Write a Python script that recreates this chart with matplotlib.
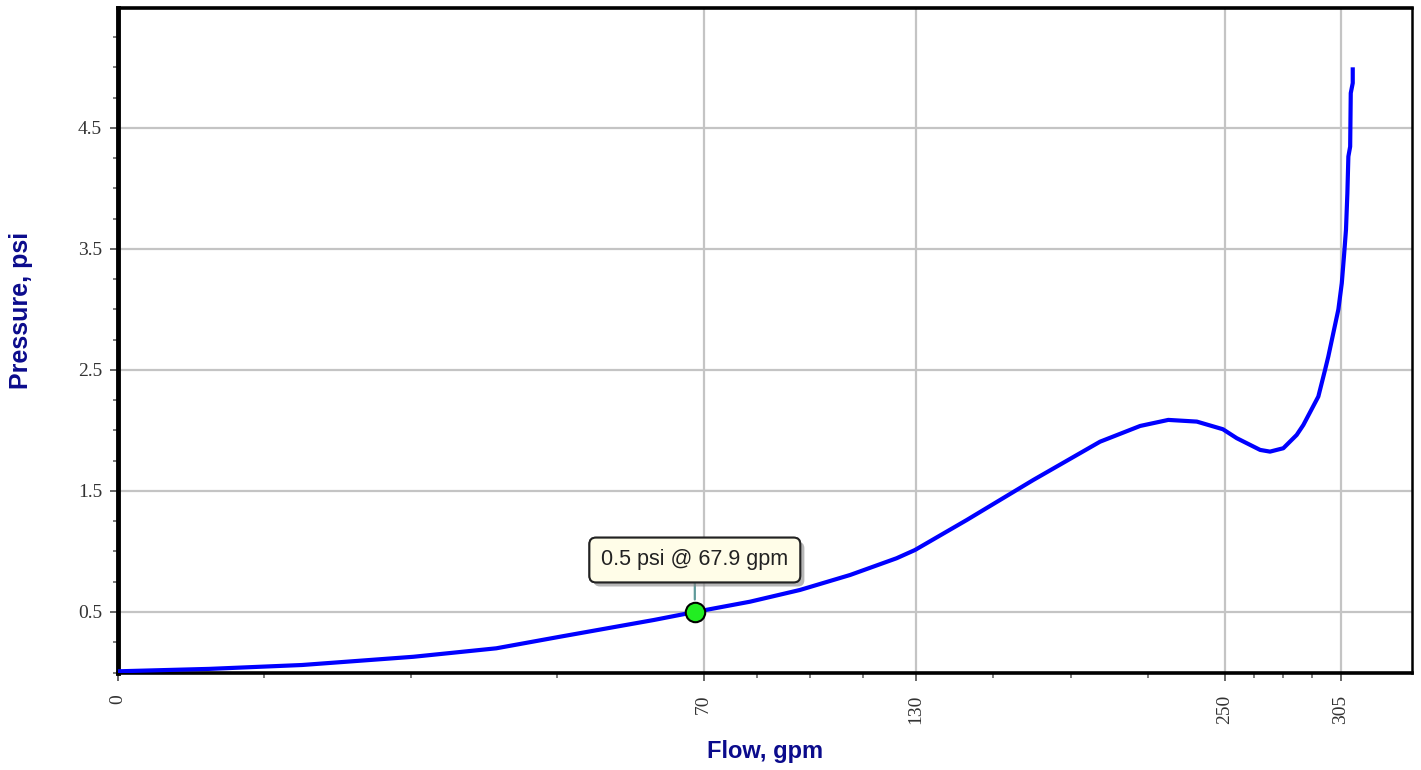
import numpy as np
import matplotlib
matplotlib.use('Agg')
import matplotlib.pyplot as plt
from matplotlib import patheffects
from matplotlib.ticker import FixedLocator, MultipleLocator

# curve (flow in gpm, pressure in psi)
flow = [0, 1.7, 6.9, 17.8, 29.2, 39.9, 58.6, 67.9, 81.5, 94.9, 109.4, 123.7,
        129.6, 147.0, 170.9, 196.8, 213.2, 225.1, 237.5, 249.1, 255.4, 266.2,
        270.8, 277.1, 283.5, 286.7, 294.0, 297.3, 298.9, 303.9, 305.6, 306.7,
        307.7, 308.4, 308.9, 309.8, 310.1, 311.1, 311.1]
pressure = [0.01, 0.03, 0.062, 0.13, 0.20, 0.296, 0.434, 0.5, 0.585, 0.682,
            0.806, 0.944, 1.012, 1.26, 1.59, 1.907, 2.037, 2.087, 2.073, 2.01,
            1.936, 1.839, 1.825, 1.853, 1.963, 2.045, 2.28, 2.5, 2.61, 3.0,
            3.216, 3.44, 3.657, 3.96, 4.263, 4.345, 4.787, 4.87, 5.0]

x_ticks = [0, 70, 130, 250, 305]
y_ticks = [0.5, 1.5, 2.5, 3.5, 4.5]

mark_flow = 67.9
mark_pressure = 0.5
mark_text = '0.5 psi @ 67.9 gpm'

navy = '#0b0b8c'

fig = plt.figure(figsize=(14.21, 7.7), dpi=100)
ax = fig.add_axes([0.0830, 0.1266, 0.9107, 0.8630])

ax.set_xscale('function', functions=(lambda v: np.sqrt(np.clip(v, 0, None)),
                                     lambda v: np.square(v)))
ax.set_xlim(0, 341.7)
ax.set_ylim(0, 5.49)

ax.plot(flow, pressure, color='#0000ff', lw=3, solid_capstyle='butt', zorder=3)

# minor ticks split each major interval evenly on the sqrt scale
minors = []
for a, b in zip(x_ticks[:-1], x_ticks[1:]):
    sa, sb = np.sqrt(a), np.sqrt(b)
    for k in range(1, 4):
        minors.append((sa + k * (sb - sa) / 4) ** 2)

ax.xaxis.set_major_locator(FixedLocator(x_ticks))
ax.xaxis.set_minor_locator(FixedLocator(minors))
ax.yaxis.set_major_locator(FixedLocator(y_ticks))
ax.yaxis.set_minor_locator(MultipleLocator(0.25))
ax.set_xticklabels([str(t) for t in x_ticks], rotation=90,
                   family='Liberation Serif', fontsize=14, color='#333333')
ax.set_yticklabels([str(t) for t in y_ticks],
                   family='Liberation Serif', fontsize=14, color='#333333')

ax.grid(True, which='major', color='#c4c4c4', lw=1.6, zorder=0)
ax.set_axisbelow(True)

ax.tick_params(which='major', direction='out', length=6, width=1.4,
               color='#666666')
ax.tick_params(which='minor', direction='out', length=3.5, width=1.2,
               color='#666666')
ax.tick_params(axis='x', which='major', pad=10)
ax.tick_params(axis='y', which='major', pad=5.5)

ax.spines['left'].set_linewidth(3.5)
ax.spines['bottom'].set_linewidth(2.6)
ax.spines['top'].set_linewidth(2.6)
ax.spines['right'].set_linewidth(1.8)
for s in ax.spines.values():
    s.set_color('black')

ax.set_xlabel('Flow, gpm', fontsize=17, fontweight='bold', color=navy,
              family='Liberation Sans')
ax.set_ylabel('Pressure, psi', fontsize=18, fontweight='bold', color=navy,
              family='Liberation Sans')
ax.xaxis.set_label_coords(0.5, -0.1016)
ax.yaxis.set_label_coords(-0.0657, 0.5455)

# marker with call-out
ax.plot([mark_flow], [mark_pressure], 'o', ms=14, mfc='#22ee22', mec='black',
        mew=1.5, zorder=5)
ann = ax.annotate(mark_text, xy=(mark_flow, mark_pressure), xytext=(0, 52),
                  textcoords='offset pixels', ha='center', va='center',
                  fontsize=15.5, family='Liberation Sans', color='#222222',
                  bbox=dict(boxstyle='round,pad=0.55,rounding_size=0.3',
                            fc='#fffde8', ec='#222222', lw=1.4),
                  arrowprops=dict(arrowstyle='-', color='#5f9a9a', lw=1.6,
                                  shrinkA=0, shrinkB=9),
                  zorder=6)
ann.get_bbox_patch().set_path_effects([
    patheffects.withSimplePatchShadow(offset=(3, -3), shadow_rgbFace='#888888',
                                      alpha=0.6),
    patheffects.Normal()])

plt.savefig('out.png', dpi=100)
